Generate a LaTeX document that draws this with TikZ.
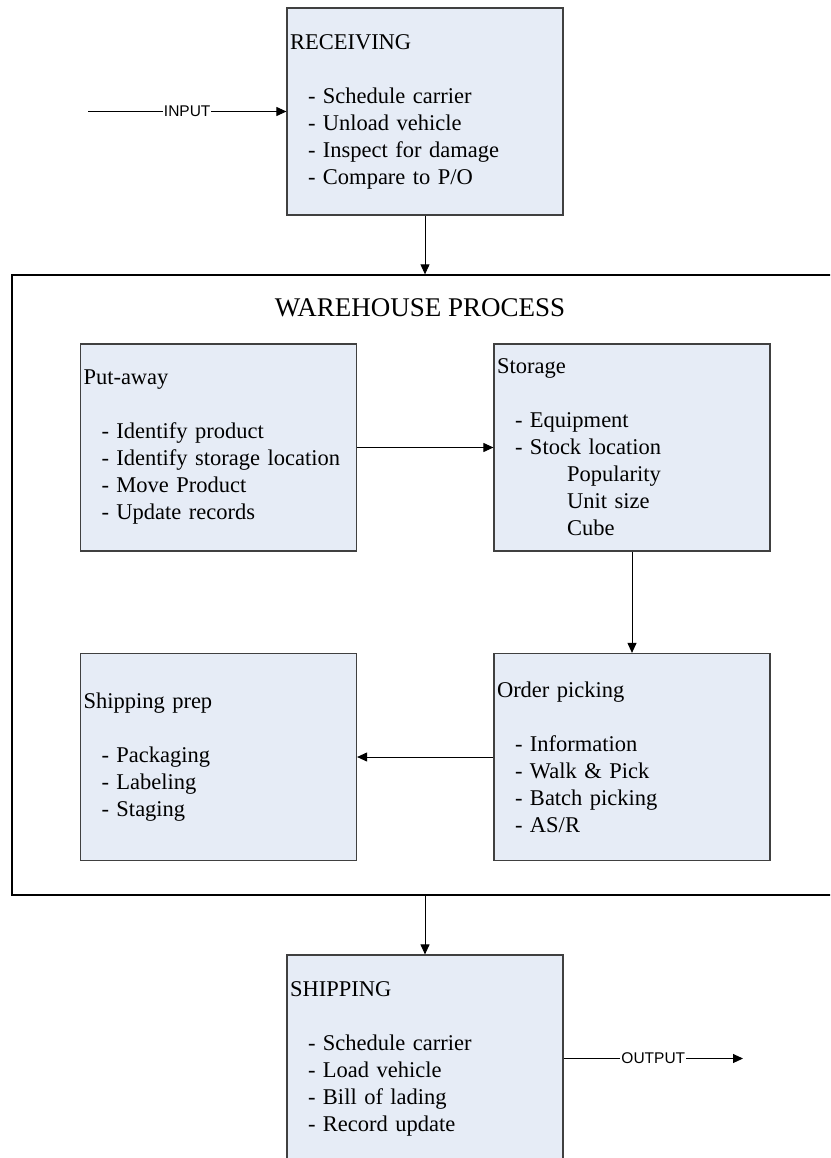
\documentclass[tikz,border=0pt]{standalone}
\usepackage{fontspec}
\setmainfont{Liberation Serif}
\newfontfamily\labelfont{Liberation Sans}
\usetikzlibrary{arrows.meta}
\definecolor{boxfill}{RGB}{230,236,246}
\definecolor{boxline}{RGB}{64,64,64}
\newcommand{\stepitem}[1]{\hspace*{18pt}- #1}
\newcommand{\detailitem}[1]{\hspace*{70pt}#1}
\tikzset{
  stagebox/.style={draw=boxline, fill=boxfill, line width=1.2pt,
    minimum width=276pt, minimum height=207pt, text width=270pt,
    inner xsep=3pt, align=left, font=\fontsize{22.5}{27}\selectfont},
  framebox/.style={draw=black, line width=1.3pt, minimum width=830pt,
    minimum height=620pt, inner sep=0pt},
  flow/.style={line width=1pt, -{Triangle[length=10pt,width=9pt]}},
  flowlabel/.style={fill=white, inner xsep=1pt, inner ysep=2pt,
    font=\labelfont\fontsize{15.5}{18}\selectfont}
}
\begin{document}
\begin{tikzpicture}[x=1pt,y=-1pt]
\clip (0,0) rectangle (830,1158);
\fill[white] (0,0) rectangle (830,1158);

% outer frame of the warehouse process
\node[framebox] (wh) at (427,585) {};
\node[font=\fontsize{27}{32}\selectfont] (whtitle) at (420,308) {WAREHOUSE PROCESS};

% stages
\node[stagebox] (recv) at (425,111.5) {RECEIVING\\[27pt]
  \stepitem{Schedule carrier}\\
  \stepitem{Unload vehicle}\\
  \stepitem{Inspect for damage}\\
  \stepitem{Compare to P/O}};

\node[stagebox] (put) at (218.5,447.5) {Put-away\\[27pt]
  \stepitem{Identify product}\\
  \stepitem{Identify storage location}\\
  \stepitem{Move Product}\\
  \stepitem{Update records}};

\node[stagebox] (store) at (632,447.5) {Storage\\[27pt]
  \stepitem{Equipment}\\
  \stepitem{Stock location}\\
  \detailitem{Popularity}\\
  \detailitem{Unit size}\\
  \detailitem{Cube}};

\node[stagebox] (pick) at (632,757) {Order picking\\[27pt]
  \stepitem{Information}\\
  \stepitem{Walk \& Pick}\\
  \stepitem{Batch picking}\\
  \stepitem{AS/R}};

\node[stagebox] (prep) at (218.5,757) {Shipping prep\\[27pt]
  \stepitem{Packaging}\\
  \stepitem{Labeling}\\
  \stepitem{Staging}};

\node[stagebox] (ship) at (425,1058.5) {SHIPPING\\[27pt]
  \stepitem{Schedule carrier}\\
  \stepitem{Load vehicle}\\
  \stepitem{Bill of lading}\\
  \stepitem{Record update}};

% free ends of the input and output lines
\coordinate (in) at (88,111.5);
\coordinate (out) at (743,1058.5);

% connectors
\draw[flow] (in) -- node[flowlabel] {INPUT} (recv.west);
\draw[flow] (recv.south) -- (recv.south |- wh.north);
\draw[flow] (put.east) -- (store.west);
\draw[flow] (store.south) -- (pick.north);
\draw[flow] (pick.west) -- (prep.east);
\draw[flow] (ship.north |- wh.south) -- (ship.north);
\draw[flow] (ship.east) -- node[flowlabel] {OUTPUT} (out);
\end{tikzpicture}
\end{document}
